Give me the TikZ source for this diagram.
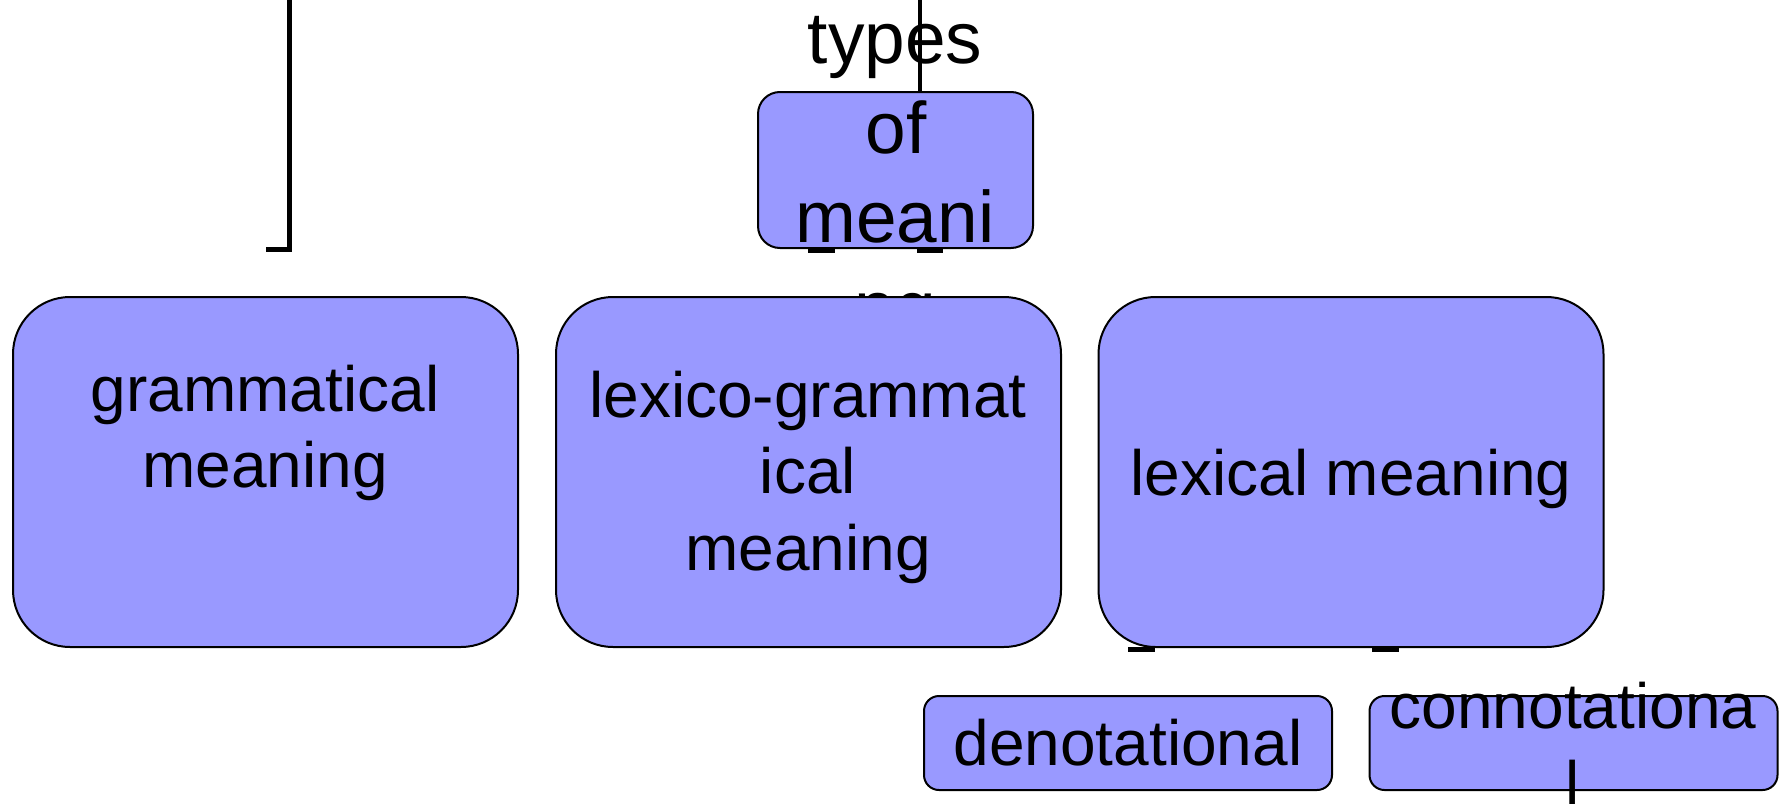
\documentclass[tikz,border=0pt]{standalone}
\usepackage{fontspec}
\setmainfont{Liberation Sans}
\definecolor{boxfill}{HTML}{9999FF}
\tikzset{
  box/.style={draw=black, line width=1pt, fill=boxfill, inner sep=0pt, outer sep=0pt},
  bigbox/.style={box, minimum width=252.5pt, minimum height=175pt, rounded corners=28.5pt},
  smallbox/.style={box, minimum width=204pt, minimum height=47pt, rounded corners=7.5pt},
  topbox/.style={box, minimum width=137.5pt, minimum height=78pt, rounded corners=11pt},
  txt/.style={anchor=base, inner sep=0pt, font=\fontsize{32}{38}\selectfont},
  toptxt/.style={anchor=base, inner sep=0pt, font=\fontsize{36.5}{44}\selectfont},
  link/.style={line width=2.5pt, line cap=butt, line join=miter},
}
\begin{document}
\begin{tikzpicture}[x=0.5pt, y=-0.5pt]
  \clip (0,0) rectangle (1787,803);
  \fill[white] (0,0) rectangle (1787,803);

  % bracket on the left
  \coordinate (b0) at (289,0);
  \coordinate (b2) at (266,249);
  \draw[link] (b0) |- (b2);

  % stubs under the root box
  \coordinate (s1a) at (808,250); \coordinate (s1b) at (835,250);
  \coordinate (s2a) at (917,250); \coordinate (s2b) at (943,250);
  \draw[link] (s1a) -- (s1b);
  \draw[link] (s2a) -- (s2b);

  % root box and its text
  \node[topbox] (root) at (895.5,170) {};
  \node[toptxt] (r1) at (895,63) {types};
  \node[toptxt] (r2) at (896,153) {of};
  \node[toptxt] (r3) at (895,242) {meani};
  \node[toptxt] (r4) at (895,332) {ng};
  \coordinate (t0) at (920,0);
  \draw[line width=2.2pt] (t0) -- (t0 |- root.north);

  % stubs under the lexical box
  \coordinate (s3a) at (1128,649); \coordinate (s3b) at (1155,649);
  \coordinate (s4a) at (1372,649); \coordinate (s4b) at (1399,649);
  \draw[link] (s3a) -- (s3b);
  \draw[link] (s4a) -- (s4b);

  % three kinds of meaning
  \node[bigbox] (gram) at (265.5,472) {};
  \node[bigbox] (lexgram) at (808.5,472) {};
  \node[bigbox] (lex) at (1351,472) {};
  \node[txt] (g1) at (265,411) {grammatical};
  \node[txt] (g2) at (265,487) {meaning};
  \node[txt] (lg1) at (808,417) {lexico-grammat};
  \node[txt] (lg2) at (808,493) {ical};
  \node[txt] (lg3) at (808,570) {meaning};
  \node[txt] (l1) at (1351,495) {lexical meaning};

  % components of lexical meaning
  \node[smallbox] (den) at (1128,743) {};
  \node[smallbox] (con) at (1573.5,743) {};
  \node[txt] (d1) at (1128,765) {denotational};
  \node[txt] (c1) at (1573,728) {connotationa};
  \node[txt] (c2) at (1573,806) {l};
\end{tikzpicture}
\end{document}
